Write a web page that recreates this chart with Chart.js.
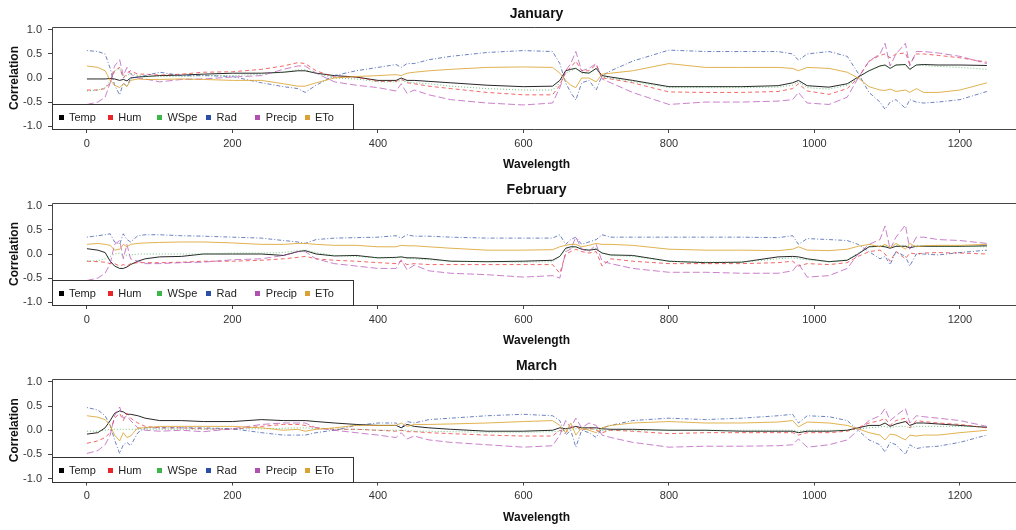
<!DOCTYPE html>
<html>
<head>
<meta charset="utf-8">
<script src="https://cdn.jsdelivr.net/npm/chart.js@4.4.0/dist/chart.umd.min.js"></script>
<style>
  html, body { margin: 0; padding: 0; background: #fff; width: 1016px; height: 530px; overflow: hidden; }
  canvas { position: absolute; left: 0; }
</style>
</head>
<body>
<canvas id="jan" width="1016" height="176" style="top:0px"></canvas>
<canvas id="feb" width="1016" height="176" style="top:176px"></canvas>
<canvas id="mar" width="1016" height="178" style="top:352px"></canvas>
<script>
const wavelength = [0, 15, 25, 32, 38, 45, 50, 55, 60, 70,
  80, 100, 130, 160, 200, 240, 270, 290, 300, 315,
  340, 370, 400, 425, 432, 440, 450, 470, 500, 550,
  600, 640, 650, 658, 665, 672, 680, 690, 700, 708,
  720, 750, 800, 850, 900, 950, 970, 978, 990, 1020,
  1045, 1060, 1075, 1090, 1097, 1104, 1112, 1125, 1131, 1140,
  1150, 1170, 1200, 1237];

const seriesNames = ["Temp", "Hum", "WSpe", "Rad", "Precip", "ETo"];
const xTicks = [0, 200, 400, 600, 800, 1000, 1200];
const xTickLabels = ["0", "200", "400", "600", "800", "1000", "1200"];
const yTicks = [-1, -0.5, 0, 0.5, 1];
const yTickLabels = ["-1.0", "-0.5", "0.0", "0.5", "1.0"];

// January
const janTemp = [-0.02, -0.02, -0.02, -0.01, -0.02, -0.05, -0.03, -0.06, 0.00, 0.02,
  0.03, 0.05, 0.06, 0.08, 0.10, 0.10, 0.12, 0.15, 0.15, 0.10,
  0.05, 0.02, -0.05, -0.05, 0.00, -0.05, -0.05, -0.07, -0.10, -0.15,
  -0.18, -0.17, -0.05, 0.15, 0.18, 0.20, 0.12, 0.10, 0.20, 0.05,
  0.02, -0.05, -0.18, -0.18, -0.18, -0.16, -0.10, -0.05, -0.16, -0.19,
  -0.12, 0.02, 0.15, 0.25, 0.27, 0.20, 0.27, 0.28, 0.18, 0.27,
  0.28, 0.27, 0.27, 0.26];
const janHum = [-0.25, -0.25, -0.22, -0.10, 0.15, 0.22, 0.00, 0.10, 0.15, 0.08,
  0.08, 0.06, 0.08, 0.12, 0.13, 0.18, 0.25, 0.32, 0.30, 0.15,
  0.02, 0.02, -0.07, -0.07, -0.02, -0.10, -0.12, -0.17, -0.22, -0.30,
  -0.35, -0.35, -0.15, 0.12, 0.22, 0.35, 0.15, 0.15, 0.28, 0.00,
  -0.02, -0.10, -0.29, -0.30, -0.30, -0.28, -0.22, -0.12, -0.27, -0.34,
  -0.22, 0.00, 0.35, 0.47, 0.50, 0.42, 0.50, 0.52, 0.30, 0.50,
  0.50, 0.47, 0.42, 0.33];
const janWSpe = [-0.27, -0.25, -0.20, -0.05, 0.15, 0.20, 0.00, 0.05, 0.10, 0.05,
  0.03, 0.03, 0.03, 0.05, 0.05, 0.08, 0.12, 0.17, 0.17, 0.10,
  0.00, -0.02, -0.08, -0.08, -0.05, -0.08, -0.10, -0.12, -0.17, -0.22,
  -0.25, -0.25, -0.10, 0.10, 0.15, 0.20, 0.10, 0.10, 0.18, 0.02,
  0.00, -0.07, -0.20, -0.20, -0.20, -0.19, -0.15, -0.08, -0.20, -0.23,
  -0.15, 0.00, 0.15, 0.25, 0.26, 0.20, 0.27, 0.28, 0.18, 0.27,
  0.26, 0.24, 0.22, 0.18];
const janRad = [0.57, 0.55, 0.50, 0.20, -0.15, -0.35, -0.10, -0.18, 0.00, 0.02,
  0.05, 0.12, 0.05, 0.05, 0.03, -0.10, -0.18, -0.22, -0.30, -0.15,
  0.05, 0.15, 0.22, 0.28, 0.22, 0.30, 0.30, 0.38, 0.45, 0.53,
  0.57, 0.55, 0.30, -0.10, -0.30, -0.46, -0.10, -0.05, -0.25, 0.05,
  0.15, 0.35, 0.58, 0.55, 0.55, 0.55, 0.50, 0.37, 0.50, 0.55,
  0.45, 0.10, -0.30, -0.50, -0.65, -0.50, -0.45, -0.63, -0.45, -0.50,
  -0.52, -0.50, -0.45, -0.28];
const janPrecip = [-0.55, -0.50, -0.40, -0.10, 0.25, 0.38, 0.05, 0.22, 0.08, 0.00,
  -0.02, -0.08, -0.03, -0.02, 0.02, 0.05, 0.18, 0.25, 0.25, 0.10,
  -0.08, -0.15, -0.20, -0.27, -0.12, -0.32, -0.25, -0.35, -0.45, -0.52,
  -0.56, -0.52, -0.20, 0.15, 0.30, 0.55, 0.15, 0.20, 0.30, -0.02,
  -0.10, -0.30, -0.55, -0.50, -0.50, -0.48, -0.45, -0.30, -0.52, -0.55,
  -0.40, 0.00, 0.35, 0.50, 0.72, 0.25, 0.50, 0.72, 0.25, 0.55,
  0.55, 0.52, 0.45, 0.30];
const janETo = [0.25, 0.22, 0.15, -0.05, -0.15, -0.20, -0.12, -0.18, -0.05, -0.02,
  -0.03, -0.03, -0.02, -0.03, -0.05, -0.05, -0.12, -0.17, -0.17, -0.10,
  0.00, 0.03, 0.05, 0.07, 0.05, 0.10, 0.12, 0.15, 0.18, 0.22,
  0.23, 0.22, 0.10, -0.05, -0.15, -0.20, 0.00, 0.00, -0.08, 0.08,
  0.10, 0.15, 0.30, 0.22, 0.22, 0.22, 0.20, 0.15, 0.22, 0.20,
  0.12, 0.00, -0.18, -0.25, -0.26, -0.23, -0.28, -0.25, -0.30, -0.22,
  -0.30, -0.30, -0.25, -0.10];

// February
const febTemp = [0.11, 0.08, 0.03, -0.15, -0.25, -0.30, -0.30, -0.27, -0.22, -0.15,
  -0.10, -0.06, -0.05, 0.00, 0.00, 0.00, -0.03, 0.05, 0.07, 0.00,
  -0.04, -0.03, -0.08, -0.07, -0.06, -0.08, -0.08, -0.10, -0.15, -0.16,
  -0.15, -0.13, -0.05, 0.12, 0.15, 0.15, 0.10, 0.08, 0.10, 0.02,
  -0.02, -0.03, -0.15, -0.18, -0.17, -0.06, -0.05, -0.06, -0.10, -0.16,
  -0.13, 0.00, 0.15, 0.16, 0.15, 0.12, 0.16, 0.16, 0.13, 0.16,
  0.16, 0.16, 0.16, 0.17];
const febHum = [-0.15, -0.16, -0.17, -0.20, -0.20, -0.25, -0.22, -0.25, -0.20, -0.18,
  -0.18, -0.18, -0.17, -0.15, -0.15, -0.13, -0.10, -0.07, -0.05, -0.10,
  -0.13, -0.15, -0.18, -0.20, -0.15, -0.22, -0.20, -0.22, -0.22, -0.22,
  -0.22, -0.22, -0.40, 0.00, 0.05, 0.10, 0.05, 0.02, 0.05, -0.25,
  -0.10, -0.15, -0.20, -0.20, -0.20, -0.18, -0.15, -0.25, -0.20, -0.22,
  -0.18, -0.05, 0.05, 0.08, 0.00, -0.15, 0.05, -0.10, 0.02, 0.00,
  0.02, 0.03, 0.02, 0.00];
const febWSpe = [-0.15, -0.14, -0.10, -0.05, 0.00, 0.02, -0.05, -0.02, -0.02, 0.00,
  0.00, 0.00, 0.00, 0.00, 0.02, 0.02, 0.03, 0.07, 0.08, 0.03,
  -0.03, -0.05, -0.08, -0.08, -0.06, -0.09, -0.10, -0.12, -0.15, -0.16,
  -0.17, -0.16, -0.05, 0.10, 0.13, 0.15, 0.10, 0.08, 0.12, 0.02,
  -0.03, -0.05, -0.15, -0.17, -0.17, -0.10, -0.08, -0.10, -0.12, -0.16,
  -0.12, 0.02, 0.15, 0.17, 0.18, 0.12, 0.18, 0.18, 0.15, 0.17,
  0.17, 0.16, 0.16, 0.15];
const febRad = [0.35, 0.38, 0.40, 0.42, 0.25, 0.20, 0.42, 0.30, 0.25, 0.38,
  0.40, 0.40, 0.38, 0.37, 0.35, 0.33, 0.28, 0.25, 0.22, 0.30,
  0.33, 0.34, 0.35, 0.38, 0.33, 0.40, 0.37, 0.37, 0.35, 0.33,
  0.33, 0.33, 0.40, 0.20, 0.30, 0.35, 0.20, 0.25, 0.30, 0.40,
  0.35, 0.35, 0.35, 0.35, 0.35, 0.34, 0.38, 0.20, 0.32, 0.30,
  0.28, 0.20, 0.05, -0.10, -0.05, -0.22, 0.05, -0.05, -0.25, 0.00,
  0.00, -0.02, 0.03, 0.08];
const febPrecip = [-0.55, -0.50, -0.40, -0.20, 0.20, 0.28, -0.10, 0.20, -0.10, -0.15,
  -0.20, -0.20, -0.18, -0.17, -0.12, -0.10, -0.03, 0.05, 0.05, -0.10,
  -0.20, -0.25, -0.30, -0.30, -0.12, -0.33, -0.23, -0.35, -0.40, -0.43,
  -0.48, -0.45, -0.50, 0.05, 0.10, 0.35, 0.10, 0.05, 0.20, -0.15,
  -0.20, -0.30, -0.38, -0.38, -0.40, -0.40, -0.35, -0.20, -0.48, -0.45,
  -0.30, 0.00, 0.20, 0.30, 0.58, 0.10, 0.35, 0.60, 0.10, 0.35,
  0.35, 0.30, 0.28, 0.22];
const febETo = [0.20, 0.22, 0.20, 0.18, 0.08, 0.10, 0.20, 0.15, 0.20, 0.22,
  0.23, 0.24, 0.25, 0.25, 0.23, 0.20, 0.20, 0.22, 0.22, 0.20,
  0.18, 0.18, 0.15, 0.15, 0.18, 0.17, 0.17, 0.15, 0.12, 0.08,
  0.08, 0.09, 0.15, 0.18, 0.20, 0.20, 0.15, 0.18, 0.22, 0.20,
  0.20, 0.18, 0.10, 0.08, 0.08, 0.07, 0.10, 0.15, 0.08, 0.07,
  0.10, 0.16, 0.20, 0.15, 0.20, 0.13, 0.22, 0.10, 0.22, 0.15,
  0.17, 0.18, 0.18, 0.20];

// March
const marTemp = [-0.08, -0.05, 0.05, 0.20, 0.35, 0.40, 0.38, 0.33, 0.33, 0.30,
  0.25, 0.20, 0.20, 0.18, 0.18, 0.22, 0.20, 0.20, 0.20, 0.18,
  0.15, 0.12, 0.10, 0.10, 0.05, 0.12, 0.08, 0.05, 0.02, -0.02,
  -0.02, 0.00, 0.05, 0.03, 0.05, 0.08, 0.05, 0.05, 0.05, 0.03,
  0.02, 0.02, 0.00, 0.00, -0.02, -0.02, -0.02, -0.05, -0.02, -0.02,
  0.00, 0.05, 0.10, 0.10, 0.15, 0.08, 0.13, 0.18, 0.10, 0.15,
  0.15, 0.13, 0.10, 0.06];
const marHum = [-0.27, -0.22, -0.15, -0.05, 0.25, 0.35, 0.20, 0.35, 0.25, 0.15,
  0.08, 0.05, 0.05, 0.03, 0.02, 0.08, 0.12, 0.12, 0.10, 0.05,
  0.02, 0.02, 0.00, -0.02, 0.00, -0.03, -0.03, -0.05, -0.07, -0.10,
  -0.12, -0.12, 0.00, -0.05, 0.05, 0.08, 0.00, 0.05, 0.00, -0.05,
  0.00, -0.02, -0.07, -0.05, -0.05, -0.05, -0.05, -0.10, -0.05, -0.05,
  -0.02, 0.05, 0.15, 0.20, 0.25, 0.10, 0.20, 0.25, 0.05, 0.20,
  0.18, 0.15, 0.12, 0.05];
const marWSpe = [-0.02, -0.02, 0.00, 0.02, 0.02, 0.02, 0.02, 0.02, 0.02, 0.02,
  0.02, 0.02, 0.02, 0.02, 0.03, 0.03, 0.04, 0.05, 0.05, 0.03,
  0.02, 0.02, 0.00, 0.00, 0.00, 0.00, -0.02, -0.02, -0.03, -0.04,
  -0.04, -0.03, -0.02, 0.00, 0.02, 0.03, 0.02, 0.02, 0.02, 0.00,
  0.00, 0.00, 0.00, 0.00, 0.00, 0.00, 0.00, -0.02, 0.00, 0.00,
  0.00, 0.03, 0.05, 0.07, 0.08, 0.05, 0.08, 0.08, 0.05, 0.08,
  0.08, 0.08, 0.08, 0.07];
const marRad = [0.47, 0.42, 0.30, 0.10, -0.20, -0.48, -0.30, -0.25, -0.32, -0.05,
  0.05, 0.05, 0.05, 0.05, 0.03, -0.05, -0.10, -0.10, -0.10, -0.05,
  0.00, 0.10, 0.15, 0.15, 0.05, 0.18, 0.15, 0.22, 0.25, 0.30,
  0.33, 0.30, 0.20, -0.10, 0.00, -0.35, 0.00, -0.05, -0.15, 0.05,
  0.10, 0.20, 0.25, 0.22, 0.25, 0.30, 0.33, 0.15, 0.30, 0.28,
  0.20, 0.00, -0.20, -0.30, -0.45, -0.25, -0.30, -0.50, -0.30, -0.38,
  -0.35, -0.33, -0.25, -0.10];
const marPrecip = [-0.48, -0.42, -0.30, -0.10, 0.30, 0.48, 0.25, 0.30, 0.20, 0.05,
  0.00, -0.02, 0.00, -0.03, 0.03, 0.12, 0.15, 0.15, 0.15, 0.05,
  0.00, -0.05, -0.10, -0.15, -0.05, -0.18, -0.12, -0.20, -0.25, -0.30,
  -0.35, -0.32, -0.10, 0.20, 0.05, 0.25, 0.05, 0.15, 0.10, -0.10,
  -0.15, -0.25, -0.35, -0.33, -0.33, -0.32, -0.30, -0.18, -0.35, -0.30,
  -0.20, 0.00, 0.20, 0.30, 0.45, 0.20, 0.30, 0.45, 0.15, 0.30,
  0.28, 0.25, 0.20, 0.08];
const marETo = [0.30, 0.27, 0.22, 0.10, -0.10, -0.22, -0.05, -0.15, -0.12, 0.05,
  0.05, 0.08, 0.08, 0.08, 0.08, 0.05, 0.00, 0.02, -0.02, 0.02,
  0.05, 0.10, 0.10, 0.10, 0.15, 0.08, 0.12, 0.12, 0.13, 0.15,
  0.18, 0.20, 0.10, -0.05, 0.15, -0.10, 0.05, 0.00, -0.05, 0.05,
  0.10, 0.15, 0.18, 0.15, 0.15, 0.17, 0.20, 0.07, 0.17, 0.15,
  0.10, 0.03, -0.05, -0.10, -0.20, -0.08, -0.10, -0.20, -0.10, -0.12,
  -0.10, -0.10, -0.05, 0.00];

const FONT = "'Liberation Sans', Arial, sans-serif";
const lineColors = ["rgba(0,0,0,0.85)", "rgba(235,40,40,0.7)", "rgba(50,170,70,0.7)",
  "rgba(45,75,165,0.7)", "rgba(180,75,180,0.7)", "rgba(220,165,50,0.85)"];
const keyColors = ["#000000", "#e8262a", "#3cb54a", "#2b4fa5", "#b050b0", "#d9a235"];
const dashes = [[], [4, 3], [1, 2], [1, 2, 4, 2], [7, 3], []];

// box round the plot, legend inside bottom-left, titles
const framePlugin = {
  id: "frame",
  afterDatasetsDraw(chart, args, opts) {
    const { ctx, chartArea: a, scales } = chart;
    const right = chart.width + 10;
    ctx.save();
    ctx.strokeStyle = "#444";
    ctx.lineWidth = 1;
    ctx.beginPath();
    ctx.moveTo(right, Math.round(a.top) + 0.5);
    ctx.lineTo(Math.round(a.left) + 0.5, Math.round(a.top) + 0.5);
    ctx.lineTo(Math.round(a.left) + 0.5, Math.round(a.bottom) + 0.5);
    ctx.lineTo(right, Math.round(a.bottom) + 0.5);
    ctx.stroke();

    // legend
    const lx = Math.round(a.left) + 0.5;
    const ly = Math.round(a.bottom) - 25 + 0.5;
    ctx.fillStyle = "#fff";
    ctx.fillRect(lx, ly, 301, 25);
    ctx.strokeStyle = "#333";
    ctx.strokeRect(lx, ly, 301, 25);
    ctx.font = "11px " + FONT;
    ctx.textBaseline = "middle";
    ctx.textAlign = "left";
    const cy = ly + 13.5;
    seriesNames.forEach((name, i) => {
      const mx = a.left + 9 + i * 49.2;
      ctx.fillStyle = keyColors[i];
      ctx.fillRect(Math.round(mx - 2.5), Math.round(cy - 3), 5, 5);
      ctx.fillStyle = "#222";
      ctx.fillText(name, mx + 8, cy);
    });

    // titles
    const cx = scales.x.getPixelForValue(618);
    ctx.fillStyle = "#111";
    ctx.textAlign = "center";
    ctx.font = "bold 14px " + FONT;
    ctx.fillText(opts.title, cx, a.top - 13);
    ctx.font = "bold 12px " + FONT;
    ctx.fillText("Wavelength", cx, a.bottom + 36);
    ctx.translate(15, (a.top + a.bottom) / 2);
    ctx.rotate(-Math.PI / 2);
    ctx.fillText("Correlation", 0, 0);
    ctx.restore();
  }
};

function drawPanel(id, title, values, axisHeight) {
  const context = document.getElementById(id).getContext("2d");
  return new Chart(context, {
    type: "line",
    data: {
      datasets: values.map((vals, i) => ({
        label: seriesNames[i],
        data: wavelength.map((w, k) => ({ x: w, y: vals[k] })),
        borderColor: lineColors[i],
        borderWidth: 1,
        borderDash: dashes[i],
        pointRadius: 0,
        fill: false,
        tension: 0,
        order: 6 - i
      }))
    },
    options: {
      responsive: false,
      animation: false,
      layout: { padding: { top: 27, left: 0, right: 0, bottom: 0 } },
      plugins: {
        legend: { display: false },
        tooltip: { enabled: false },
        frame: { title }
      },
      scales: {
        x: {
          type: "linear",
          min: -48,
          max: 1277,
          afterBuildTicks: (s) => { s.ticks = xTicks.map((v) => ({ value: v })); },
          afterFit: (s) => { s.height = axisHeight; },
          border: { display: false },
          grid: { drawOnChartArea: false, drawTicks: true, tickLength: 4, color: "#444" },
          ticks: {
            autoSkip: false, maxRotation: 0, padding: 4, color: "#333", font: { family: FONT, size: 11 },
            callback: (v) => xTickLabels[xTicks.indexOf(v)]
          }
        },
        y: {
          min: -1.06,
          max: 1.06,
          afterBuildTicks: (s) => { s.ticks = yTicks.map((v) => ({ value: v })); },
          afterFit: (s) => { s.width = 52; },
          border: { display: false },
          grid: { drawOnChartArea: false, drawTicks: true, tickLength: 4, color: "#444" },
          ticks: {
            padding: 6, color: "#333", font: { family: FONT, size: 11 },
            callback: (v) => yTickLabels[yTicks.indexOf(v)]
          }
        }
      }
    },
    plugins: [framePlugin]
  });
}

drawPanel("jan", "January", [janTemp, janHum, janWSpe, janRad, janPrecip, janETo], 47);
drawPanel("feb", "February", [febTemp, febHum, febWSpe, febRad, febPrecip, febETo], 47);
drawPanel("mar", "March", [marTemp, marHum, marWSpe, marRad, marPrecip, marETo], 48.5);
</script>
</body>
</html>
